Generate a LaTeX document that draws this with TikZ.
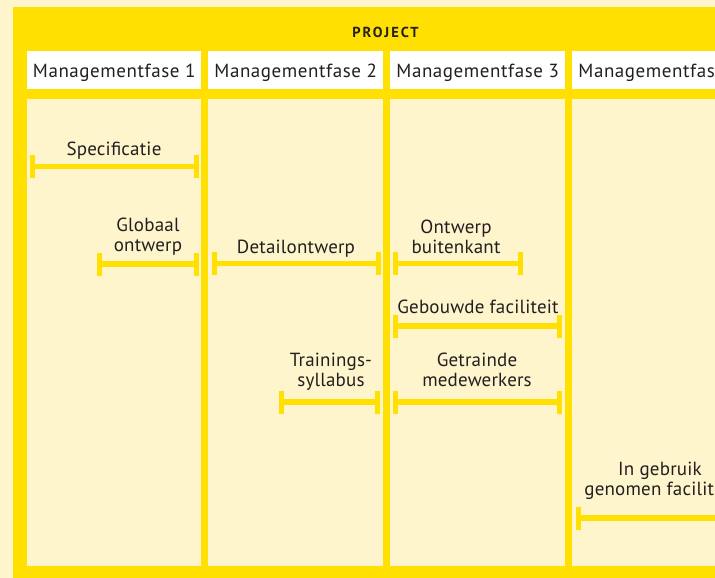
\documentclass[tikz,border=0pt]{standalone}
\usepackage{fontspec}
\setmainfont{PT Sans}
\usetikzlibrary{arrows.meta}
\definecolor{ylw}{RGB}{255,224,0}
\definecolor{lite}{RGB}{255,245,204}
\definecolor{ink}{RGB}{35,31,32}
\begin{document}
\begin{tikzpicture}[x=1pt,y=-1pt,
  hdr/.style={fill=white, minimum width=175pt, minimum height=38pt, inner sep=0pt, text=ink,
    font=\fontsize{19}{22}\selectfont\addfontfeatures{LetterSpace=3}, text height=16pt, text depth=2pt, anchor=north west},
  panel/.style={fill=lite, minimum width=175pt, minimum height=467pt, inner sep=0pt, anchor=north west},
  lbl/.style={text=ink, font=\fontsize{19}{20}\selectfont\addfontfeatures{LetterSpace=1}, align=center, inner sep=0pt, anchor=base},
  span/.style={draw=ylw, line width=5.5pt, {Bar[width=23pt,line width=5pt]}-{Bar[width=23pt,line width=5pt]}},
]
\useasboundingbox (0,0) rectangle (715,578);
\clip (0,0) rectangle (715,578);
\fill[lite] (0,0) rectangle (715,578);
\fill[ylw] (13,7) rectangle (780,600);
\node[text=ink, font=\fontsize{14.5}{16}\selectfont\bfseries\addfontfeatures{LetterSpace=14}, anchor=base, inner sep=0pt] (proj) at (385.5,37.5) {PROJECT};
% headers
\node[hdr, minimum width=174pt] (h1) at (27,51) {Managementfase 1};
\node[hdr] (h2) at (208,51) {Managementfase 2};
\node[hdr] (h3) at (390,51) {Managementfase 3};
\node[hdr] (h4) at (572,51) {Managementfase 4};
% panels
\node[panel, minimum width=174pt] (p1) at (27,99) {};
\node[panel] (p2) at (208,99) {};
\node[panel] (p3) at (390,99) {};
\node[panel] (p4) at (572,99) {};
% spans
\coordinate (a1) at (30,166.5); \coordinate (a2) at (198.5,166.5);
\draw[span] (a1) -- (a2);
\node[lbl] (la) at (114,155.5) {Specificatie};
\coordinate (b1) at (97,264); \coordinate (b2) at (198.5,264);
\draw[span] (b1) -- (b2);
\node[lbl] (lb) at (148,251.5) {Globaal\\ontwerp};
\coordinate (c1) at (211.5,263.5); \coordinate (c2) at (380.5,263.5);
\draw[span] (c1) -- (c2);
\node[lbl] (lc) at (296,253) {Detailontwerp};
\coordinate (d1) at (392.5,263.5); \coordinate (d2) at (523,263.5);
\draw[span] (d1) -- (d2);
\node[lbl] (ld) at (456,253) {Ontwerp\\buitenkant};
\coordinate (e1) at (393,326); \coordinate (e2) at (562,326);
\draw[span] (e1) -- (e2);
\node[lbl] (le) at (478,313) {Gebouwde faciliteit};
\coordinate (f1) at (279,402); \coordinate (f2) at (380,402);
\draw[span] (f1) -- (f2);
\node[lbl] (lf) at (331,386.7) {Trainings-\\syllabus};
\coordinate (g1) at (392.5,402); \coordinate (g2) at (562,402);
\draw[span] (g1) -- (g2);
\node[lbl] (lg) at (477,386.7) {Getrainde\\medewerkers};
\coordinate (k1) at (575.5,518); \coordinate (k2) at (743.5,518);
\draw[span] (k1) -- (k2);
\node[lbl] (lk) at (660,495) {In gebruik\\genomen faciliteit};
\end{tikzpicture}
\end{document}
